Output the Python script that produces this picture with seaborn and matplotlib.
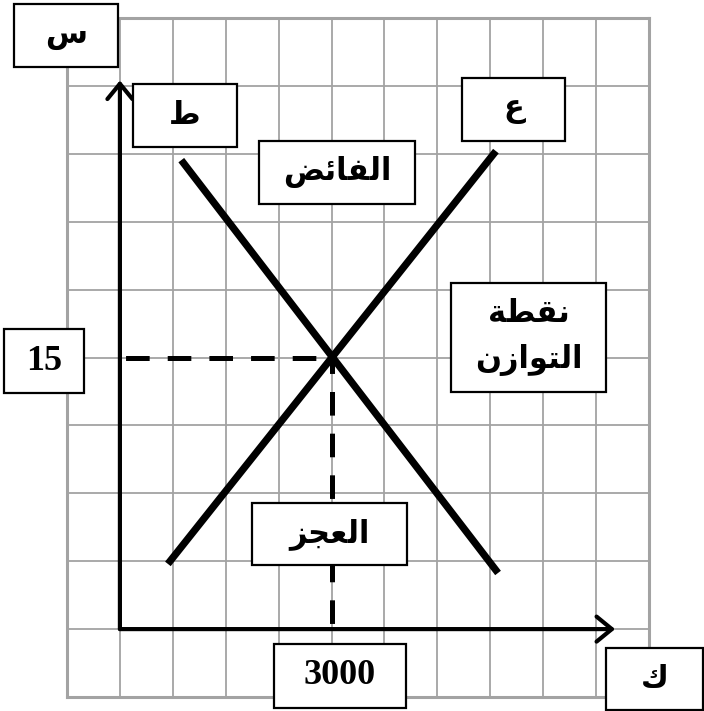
import numpy as np
import pandas as pd
import matplotlib
matplotlib.use("Agg")
import matplotlib.pyplot as plt
import seaborn as sns
from matplotlib.patches import Rectangle

# equilibrium point
eq_quantity = 3000
eq_price = 15

# supply (ع) and demand (ط) lines, quantity / price
supply_q = [680, 5330]
supply_p = [3.6, 26.4]
demand_q = [870, 5360]
demand_p = [25.9, 3.1]

# where the axis arrows end
axis_q_max = 7020
axis_p_max = 30.3

# labels
price_label = 'س'
quantity_label = 'ك'
demand_label = 'ط'
supply_label = 'ع'
surplus_label = 'الفائض'
shortage_label = 'العجز'
equilibrium_label = 'نقطة\nالتوازن'

# matplotlib does no arabic shaping, so pick the contextual forms by hand
# letter: (isolated presentation form, joins to the following letter)
ARABIC_FORMS = {
    'ا': (0xFE8D, False), 'ل': (0xFEDD, True), 'ف': (0xFED1, True),
    'ئ': (0xFE89, True), 'ض': (0xFEBD, True), 'ن': (0xFEE5, True),
    'ق': (0xFED5, True), 'ط': (0xFEC1, True), 'ة': (0xFE93, False),
    'ت': (0xFE95, True), 'و': (0xFEED, False), 'ز': (0xFEAF, False),
    'ع': (0xFEC9, True), 'ج': (0xFE9D, True), 'س': (0xFEB1, True),
    'ك': (0xFED9, True),
}


def shape_arabic(text):
    lines = []
    for line in text.split('\n'):
        chars = []
        for i, ch in enumerate(line):
            if ch not in ARABIC_FORMS:
                chars.append(ch)
                continue
            base, dual = ARABIC_FORMS[ch]
            prev = line[i - 1] if i > 0 else ''
            nxt = line[i + 1] if i + 1 < len(line) else ''
            join_prev = prev in ARABIC_FORMS and ARABIC_FORMS[prev][1]
            join_next = dual and nxt in ARABIC_FORMS
            if join_prev and join_next:
                off = 3
            elif join_prev:
                off = 1
            elif join_next:
                off = 2
            else:
                off = 0
            chars.append(chr(base + off))
        lines.append(''.join(reversed(chars)))  # right to left
    return '\n'.join(lines)


sns.set_style('white')
plt.rcParams['lines.scale_dashes'] = False

W, H = 704, 711
fig = plt.figure(figsize=(W / 100, H / 100), dpi=100)
ax = fig.add_axes([67 / W, (H - 697) / H, (649 - 67) / W, (697 - 18) / H])

# squared paper background
ax.set_xlim(-750, 7500)
ax.set_ylim(-3.75, 33.75)
ax.set_xticks(np.arange(-750, 7501, 750))
ax.set_yticks(np.arange(-3.75, 33.76, 3.75))
ax.tick_params(length=0, labelbottom=False, labelleft=False)
ax.grid(True, color='#a3a3a3', lw=1.3)
ax.set_axisbelow(True)
for sp in ax.spines.values():
    sp.set_color('#a3a3a3')
    sp.set_linewidth(2.2)

# supply and demand
df = pd.DataFrame({
    'Q': supply_q + demand_q,
    'P': supply_p + demand_p,
    'curve': ['supply'] * 2 + ['demand'] * 2,
})
sns.lineplot(data=df, x='Q', y='P', hue='curve', palette=['black', 'black'],
             sort=False, legend=False, lw=5.2, solid_capstyle='butt', ax=ax, zorder=4)
ax.set_xlabel('')
ax.set_ylabel('')

# dashed guides to the equilibrium
dash = (26, (17, 13))
ax.plot([0, eq_quantity], [eq_price, eq_price], color='black', lw=3.6,
        linestyle=dash, dash_capstyle='butt', zorder=3)
ax.plot([eq_quantity, eq_quantity], [0, eq_price], color='black', lw=3.6,
        linestyle=dash, dash_capstyle='butt', zorder=3)

# axes with open arrow heads
arrow = dict(arrowstyle='->,head_length=0.55,head_width=0.45', lw=3, color='black',
             shrinkA=0, shrinkB=0, mutation_scale=20)
ax.annotate('', xy=(0, axis_p_max), xytext=(0, 0), arrowprops=arrow, zorder=5)
ax.annotate('', xy=(axis_q_max, 0), xytext=(0, 0), arrowprops=arrow, zorder=5)


def label_box(left, top, right, bottom, text, **kw):
    fig.add_artist(Rectangle((left / W, 1 - bottom / H), (right - left) / W, (bottom - top) / H,
                             transform=fig.transFigure, facecolor='white',
                             edgecolor='black', lw=1.6, zorder=10))
    fig.text((left + right) / 2 / W, 1 - (top + bottom) / 2 / H, text,
             ha='center', va='center', zorder=11, **kw)


arabic = dict(family='DejaVu Sans', weight='bold', fontsize=22, color='black')
number = dict(family='Liberation Serif', weight='bold', fontsize=26, color='black')

label_box(14, 4, 118, 67, shape_arabic(price_label), **arabic)
label_box(133, 84, 237, 147, shape_arabic(demand_label), **arabic)
label_box(259, 141, 415, 204, shape_arabic(surplus_label), **arabic)
label_box(462, 78, 565, 141, shape_arabic(supply_label), **arabic)
label_box(451, 283, 606, 392, shape_arabic(equilibrium_label), linespacing=1.7, **arabic)
label_box(4, 329, 84, 393, str(eq_price), **number)
label_box(252, 503, 407, 565, shape_arabic(shortage_label), **arabic)
label_box(274, 644, 406, 708, str(eq_quantity), **number)
label_box(606, 648, 703, 710, shape_arabic(quantity_label), **arabic)

fig.savefig('out.png', dpi=100)
